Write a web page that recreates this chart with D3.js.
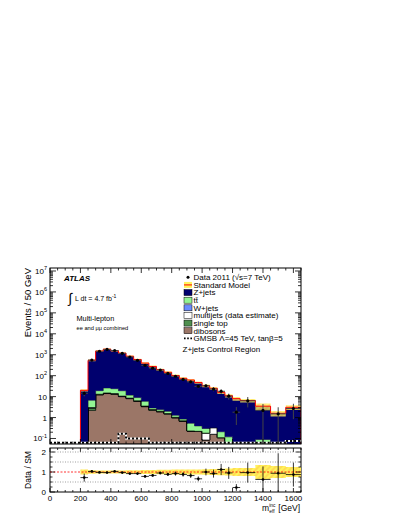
<!DOCTYPE html>
<html>
<head>
<meta charset="utf-8">
<script src="https://cdn.jsdelivr.net/npm/d3@7"></script>
<style>
  body { margin: 0; background: #fff; }
  text { font-family: "Liberation Sans", Arial, sans-serif; fill: #000; }
</style>
</head>
<body>
<div id="chart"></div>
<script>
// bin edges (GeV), last four bins are 100 GeV wide
const edges = [200, 250, 300, 350, 400, 450, 500, 550, 600, 650, 700, 750, 800, 850, 900, 950, 1000, 1050, 1100, 1150, 1200, 1250, 1350, 1450, 1550, 1650]
const smTotal = [20, 540, 1500, 1850, 1550, 1200, 850, 590, 400, 275, 195, 145, 102, 75, 62, 47, 33, 25, 16, 11, 8, 6.5, 3.5, 1.6, 3.1]
const smUnc = [0.12, 0.09, 0.08, 0.08, 0.08, 0.08, 0.09, 0.09, 0.1, 0.1, 0.11, 0.11, 0.12, 0.12, 0.13, 0.13, 0.14, 0.15, 0.16, 0.17, 0.2, 0.2, 0.35, 0.3, 0.25]
const dibosons = [0.03, 2.2, 12, 14, 13, 10, 8, 6, 3.3, 2.2, 1.85, 1.45, 0.95, 0.65, 0.23, 0.22, 0.085, 0.16, 0.11, 0.02, 0.02, 0.02, 0.02, 0.02, 0.02]
const singleTop = [0, 0.7, 0.8, 0.8, 0.7, 0.5, 0.4, 0.3, 0.25, 0.2, 0.15, 0.1, 0.08, 0.05, 0, 0, 0, 0, 0, 0, 0, 0, 0, 0, 0]
const multijets = [0, 0, 0, 0, 0, 0, 0, 0, 0, 0, 0, 0, 0, 0, 0, 0, 0.095, 0.17, 0, 0, 0, 0, 0, 0, 0]
const wjets = [0, 0.1, 0.2, 0.2, 0.2, 0.1, 0.1, 0, 0, 0, 0, 0, 0, 0, 0, 0, 0, 0, 0, 0, 0, 0, 0, 0, 0]
const ttbar = [0, 3.8, 6.2, 11, 10, 8.5, 3.3, 2.7, 2.45, 0.5, 0.4, 0.45, 0.27, 0.15, 0.31, 0.18, 0.12, 0, 0.1, 0.1, 0, 0, 0.07, 0, 0]
const gmsb = [0, 0, 0, 0, 0, 0.17, 0.1, 0.1, 0.1, 0, 0, 0, 0, 0, 0, 0, 0, 0, 0, 0, 0, 0, 0, 0, 0.075]
const data = [14.4, 556, 1470, 1795, 1597, 1164, 782, 543, 312, 228, 185, 128, 94, 66, 51, 31, 33, 23, 18, 10.5, 1.8, 6.3, 2.2, 1.5, 2.7]
const ratioErr = [0.2, 0.05, 0.03, 0.03, 0.03, 0.035, 0.04, 0.045, 0.05, 0.06, 0.07, 0.08, 0.1, 0.11, 0.12, 0.12, 0.17, 0.2, 0.28, 0.3, 0.17, 0.5, 0.65, 1.0, 0.6]

const xTicks = [0, 200, 400, 600, 800, 1000, 1200, 1400, 1600]
const yDecades = [-1, 0, 1, 2, 3, 4, 5, 6, 7]
const ratioTicks = [0, 1, 2]

const W = 407, H = 527
const xL = 50, xR = 301, mT = 268, mB = 444, rT = 448, rB = 492

const svg = d3.select('#chart').append('svg')
  .attr('width', W).attr('height', H)

const x = d3.scaleLinear().domain([0, 1650]).range([xL, xR])
const yMin = Math.pow(10, -1.263), yMax = Math.pow(10, 7.143)
const y = d3.scaleLog().domain([yMin, yMax]).range([mB, mT]).clamp(true)
const yr = d3.scaleLinear().domain([0, 2.2]).range([rB, rT]).clamp(true)
const yy = v => v > yMin ? y(v) : mB

const defs = svg.append('defs')
const pat = defs.append('pattern').attr('id', 'hatch')
  .attr('width', 4).attr('height', 4)
  .attr('patternUnits', 'userSpaceOnUse')
  .attr('patternTransform', 'rotate(45)')
pat.append('rect').attr('width', 4).attr('height', 4).attr('fill', '#fff45c')
pat.append('line').attr('x1', 1).attr('y1', 0).attr('x2', 1).attr('y2', 4)
  .attr('stroke', '#ffa040').attr('stroke-width', 0.6)
defs.append('clipPath').attr('id', 'clipMain').append('rect')
  .attr('x', xL).attr('y', mT).attr('width', xR - xL).attr('height', mB - mT)
defs.append('clipPath').attr('id', 'clipRatio').append('rect')
  .attr('x', xL).attr('y', rT).attr('width', xR - xL).attr('height', rB - rT)

// stack
const bins = smTotal.map((t, i) => {
  const other = dibosons[i] + singleTop[i] + multijets[i] + wjets[i] + ttbar[i]
  return {
    lo: edges[i], hi: edges[i + 1],
    dibosons: dibosons[i], singleTop: singleTop[i], multijets: multijets[i],
    wjets: wjets[i], ttbar: ttbar[i], zjets: Math.max(t - other, 0)
  }
})
const keys = ['dibosons', 'singleTop', 'multijets', 'wjets', 'ttbar', 'zjets']
const colors = {
  dibosons: '#9b7667', singleTop: '#4f8f4f', multijets: '#ffffff',
  wjets: '#6b8cff', ttbar: '#93f593', zjets: '#00006e'
}
const stacked = d3.stack().keys(keys)(bins)

const stepArea = d3.area()
  .x(d => x(d.x)).y0(d => yy(d.a)).y1(d => yy(d.b))
function stepPts (lay) {
  const pts = []
  lay.forEach(s => {
    pts.push({ x: s.data.lo, a: s[0], b: s[1] })
    pts.push({ x: s.data.hi, a: s[0], b: s[1] })
  })
  return pts
}

const gMain = svg.append('g').attr('clip-path', 'url(#clipMain)')

stacked.forEach(lay => {
  gMain.append('path')
    .attr('d', stepArea(stepPts(lay)))
    .attr('fill', colors[lay.key])
    .attr('stroke', lay.key === 'zjets' ? 'none' : '#000')
    .attr('stroke-width', 0.6)
})

// SM uncertainty band
const bandPts = []
smTotal.forEach((t, i) => {
  bandPts.push({ x: edges[i], a: t * (1 - smUnc[i]), b: t * (1 + smUnc[i]) })
  bandPts.push({ x: edges[i + 1], a: t * (1 - smUnc[i]), b: t * (1 + smUnc[i]) })
})
gMain.append('path').attr('d', stepArea(bandPts))
  .attr('fill', 'url(#hatch)').attr('opacity', 0.8)

// SM line
const smLine = [[edges[0], yMin]]
smTotal.forEach((t, i) => { smLine.push([edges[i], t]); smLine.push([edges[i + 1], t]) })
smLine.push([edges[edges.length - 1], yMin])
gMain.append('path')
  .attr('d', d3.line().x(d => x(d[0])).y(d => yy(d[1]))(smLine))
  .attr('fill', 'none').attr('stroke', '#ff0000').attr('stroke-width', 1)

// GMSB signal
const gPts = [[0, 0], [edges[0], 0]]
gmsb.forEach((v, i) => { gPts.push([edges[i], v]); gPts.push([edges[i + 1], v]) })
const gLine = d3.line().x(d => x(d[0])).y(d => Math.min(yy(d[1]), mB - 1.2))
gMain.append('path').attr('d', gLine(gPts))
  .attr('fill', 'none').attr('stroke', '#fff').attr('stroke-width', 2)
gMain.append('path').attr('d', gLine(gPts))
  .attr('fill', 'none').attr('stroke', '#000').attr('stroke-width', 2)
  .attr('stroke-dasharray', '2,2')

// data points
const pts = data.map((d, i) => ({
  c: (edges[i] + edges[i + 1]) / 2, lo: edges[i], hi: edges[i + 1],
  v: d, e: ratioErr[i] * smTotal[i], r: d / smTotal[i], re: ratioErr[i]
}))
const gData = gMain.append('g')
gData.selectAll('.ev').data(pts).enter().append('line')
  .attr('x1', d => x(d.c)).attr('x2', d => x(d.c))
  .attr('y1', d => yy(d.v + d.e)).attr('y2', d => yy(Math.max(d.v - d.e, 1e-6)))
  .attr('stroke', '#444').attr('stroke-width', 1)
gData.selectAll('.eh').data(pts).enter().append('line')
  .attr('x1', d => x(d.lo)).attr('x2', d => x(d.hi))
  .attr('y1', d => yy(d.v)).attr('y2', d => yy(d.v))
  .attr('stroke', '#444').attr('stroke-width', 1)
gData.selectAll('circle').data(pts).enter().append('circle')
  .attr('cx', d => x(d.c)).attr('cy', d => yy(d.v)).attr('r', 1.6).attr('fill', '#000')

// frames
svg.append('rect').attr('x', xL).attr('y', mT).attr('width', xR - xL).attr('height', mB - mT)
  .attr('fill', 'none').attr('stroke', '#000').attr('stroke-width', 1)
svg.append('rect').attr('x', xL).attr('y', rT).attr('width', xR - xL).attr('height', rB - rT)
  .attr('fill', 'none').attr('stroke', '#000').attr('stroke-width', 1)

// x ticks (both panels, top and bottom, inward)
const minorX = d3.range(0, 1651, 50).filter(v => v % 200 !== 0)
function xTickMarks (top, bot, maj, mnr) {
  const g = svg.append('g').attr('stroke', '#000').attr('stroke-width', 0.8)
  xTicks.forEach(v => {
    g.append('line').attr('x1', x(v)).attr('x2', x(v)).attr('y1', bot).attr('y2', bot - maj)
    g.append('line').attr('x1', x(v)).attr('x2', x(v)).attr('y1', top).attr('y2', top + maj)
  })
  minorX.forEach(v => {
    g.append('line').attr('x1', x(v)).attr('x2', x(v)).attr('y1', bot).attr('y2', bot - mnr)
    g.append('line').attr('x1', x(v)).attr('x2', x(v)).attr('y1', top).attr('y2', top + mnr)
  })
}
xTickMarks(mT, mB, 5, 2.5)
xTickMarks(rT, rB, 4, 2)

svg.append('g').selectAll('text').data(xTicks).enter().append('text')
  .attr('x', d => x(d)).attr('y', rB + 9)
  .attr('text-anchor', 'middle').attr('font-size', 8)
  .text(d => d)

// log y ticks
const gy = svg.append('g').attr('stroke', '#000').attr('stroke-width', 0.8)
yDecades.forEach(p => {
  for (let k = 1; k < 10; k++) {
    const v = k * Math.pow(10, p)
    if (v < yMin || v > yMax) continue
    const len = k === 1 ? 6 : 3
    gy.append('line').attr('x1', xL).attr('x2', xL + len).attr('y1', y(v)).attr('y2', y(v))
    gy.append('line').attr('x1', xR).attr('x2', xR - len).attr('y1', y(v)).attr('y2', y(v))
  }
})
const yLab = svg.append('g')
yDecades.forEach(p => {
  const t = yLab.append('text').attr('x', xL - 3).attr('y', y(Math.pow(10, p)) + 3)
    .attr('text-anchor', 'end').attr('font-size', 8)
  if (p === 0) { t.text('1'); return }
  t.append('tspan').text('10')
  if (p !== 1) {
    t.append('tspan').attr('dy', -3.5).attr('font-size', 5.5).text(p < 0 ? '-1' : p)
  }
})

// ratio panel
const gR = svg.append('g').attr('clip-path', 'url(#clipRatio)')
;[0.5, 1.5, 2].forEach(v => {
  gR.append('line').attr('x1', xL).attr('x2', xR).attr('y1', yr(v)).attr('y2', yr(v))
    .attr('stroke', '#777').attr('stroke-width', 0.7).attr('stroke-dasharray', '1,1.5')
})
const rBand = []
smUnc.forEach((u, i) => {
  rBand.push({ x: edges[i], a: 1 - u, b: 1 + u })
  rBand.push({ x: edges[i + 1], a: 1 - u, b: 1 + u })
})
gR.append('path')
  .attr('d', d3.area().x(d => x(d.x)).y0(d => yr(d.a)).y1(d => yr(d.b))(rBand))
  .attr('fill', 'url(#hatch)')
gR.append('line').attr('x1', xL).attr('x2', xR).attr('y1', yr(1)).attr('y2', yr(1))
  .attr('stroke', '#ff0000').attr('stroke-width', 0.8).attr('stroke-dasharray', '2,1.5')
gR.selectAll('.rv').data(pts).enter().append('line')
  .attr('x1', d => x(d.c)).attr('x2', d => x(d.c))
  .attr('y1', d => yr(d.r + d.re)).attr('y2', d => yr(d.r - d.re))
  .attr('stroke', '#000').attr('stroke-width', 0.8)
gR.selectAll('.rh').data(pts).enter().append('line')
  .attr('x1', d => x(d.lo)).attr('x2', d => x(d.hi))
  .attr('y1', d => yr(d.r)).attr('y2', d => yr(d.r))
  .attr('stroke', '#000').attr('stroke-width', 0.8)
gR.selectAll('circle').data(pts).enter().append('circle')
  .attr('cx', d => x(d.c)).attr('cy', d => yr(d.r)).attr('r', 1.3).attr('fill', '#000')

const gry = svg.append('g').attr('stroke', '#000').attr('stroke-width', 0.8)
d3.range(0, 2.21, 0.25).forEach(v => {
  const len = Math.abs(v - Math.round(v)) < 1e-6 ? 5 : 2.5
  gry.append('line').attr('x1', xL).attr('x2', xL + len).attr('y1', yr(v)).attr('y2', yr(v))
  gry.append('line').attr('x1', xR).attr('x2', xR - len).attr('y1', yr(v)).attr('y2', yr(v))
})
svg.append('g').selectAll('text').data(ratioTicks).enter().append('text')
  .attr('x', xL - 4).attr('y', d => yr(d) + 3)
  .attr('text-anchor', 'end').attr('font-size', 8)
  .text(d => d)

// axis titles
svg.append('text').attr('transform', 'translate(31,' + mT + ') rotate(-90)')
  .attr('text-anchor', 'end').attr('font-size', 9.5).text('Events / 50 GeV')
svg.append('text').attr('transform', 'translate(31,' + ((rT + rB) / 2) + ') rotate(-90)')
  .attr('text-anchor', 'middle').attr('font-size', 8.5).text('Data / SM')
svg.append('text').attr('x', 300).attr('y', 511).attr('text-anchor', 'end')
  .attr('font-size', 8.5).text('[GeV]')
svg.append('text').attr('x', 262).attr('y', 511).attr('font-size', 8.5).text('m')
svg.append('text').attr('x', 269.3).attr('y', 506.5).attr('font-size', 4.8).text('inc')
svg.append('text').attr('x', 269.3).attr('y', 513).attr('font-size', 4.8).text('eff')

// left labels
svg.append('text').attr('x', 64).attr('y', 280.5).attr('font-size', 8)
  .attr('font-weight', 'bold').attr('font-style', 'italic').text('ATLAS')
svg.append('text').attr('x', 68.5).attr('y', 303).attr('font-size', 14).text('\u222B')
const lumi = svg.append('text').attr('x', 75).attr('y', 300.5).attr('font-size', 7)
lumi.append('tspan').text('L dt = 4.7 fb')
lumi.append('tspan').attr('dy', -3).attr('font-size', 5).text('-1')
svg.append('text').attr('x', 76.5).attr('y', 321).attr('font-size', 7.3).text('Multi-lepton')
svg.append('text').attr('x', 76.5).attr('y', 329.5).attr('font-size', 5.7).text('ee and \u03BC\u03BC combined')

// legend
const legItems = [
  { t: 'Data 2011 (\u221As=7 TeV)', k: 'data' },
  { t: 'Standard Model', k: 'sm' },
  { t: 'Z+jets', k: 'zjets' },
  { t: 't\u0074\u0304', k: 'ttbar' },
  { t: 'W+jets', k: 'wjets' },
  { t: 'multijets (data estimate)', k: 'multijets' },
  { t: 'single top', k: 'singleTop' },
  { t: 'dibosons', k: 'dibosons' },
  { t: 'GMSB \u039B=45 TeV, tan\u03B2=5', k: 'gmsb' }
]
const leg = svg.append('g')
legItems.forEach((it, i) => {
  const cy = 277.3 + 7.63 * i
  if (it.k === 'data') {
    leg.append('circle').attr('cx', 188).attr('cy', cy).attr('r', 1.5).attr('fill', '#000')
  } else if (it.k === 'sm') {
    leg.append('rect').attr('x', 184).attr('y', cy - 3).attr('width', 8).attr('height', 6).attr('fill', '#fff45c')
    leg.append('line').attr('x1', 184).attr('x2', 192).attr('y1', cy).attr('y2', cy)
      .attr('stroke', '#ff0000').attr('stroke-width', 1)
  } else if (it.k === 'gmsb') {
    leg.append('line').attr('x1', 184).attr('x2', 192).attr('y1', cy).attr('y2', cy)
      .attr('stroke', '#000').attr('stroke-width', 1.6).attr('stroke-dasharray', '1.6,1.6')
  } else {
    leg.append('rect').attr('x', 184).attr('y', cy - 3).attr('width', 8).attr('height', 6)
      .attr('fill', colors[it.k]).attr('stroke', '#000').attr('stroke-width', 0.5)
  }
  leg.append('text').attr('x', 193.5).attr('y', cy + 2.9).attr('font-size', 8).text(it.t)
})
svg.append('text').attr('x', 182.5).attr('y', 352).attr('font-size', 8).text('Z+jets Control Region')
</script>
</body>
</html>
